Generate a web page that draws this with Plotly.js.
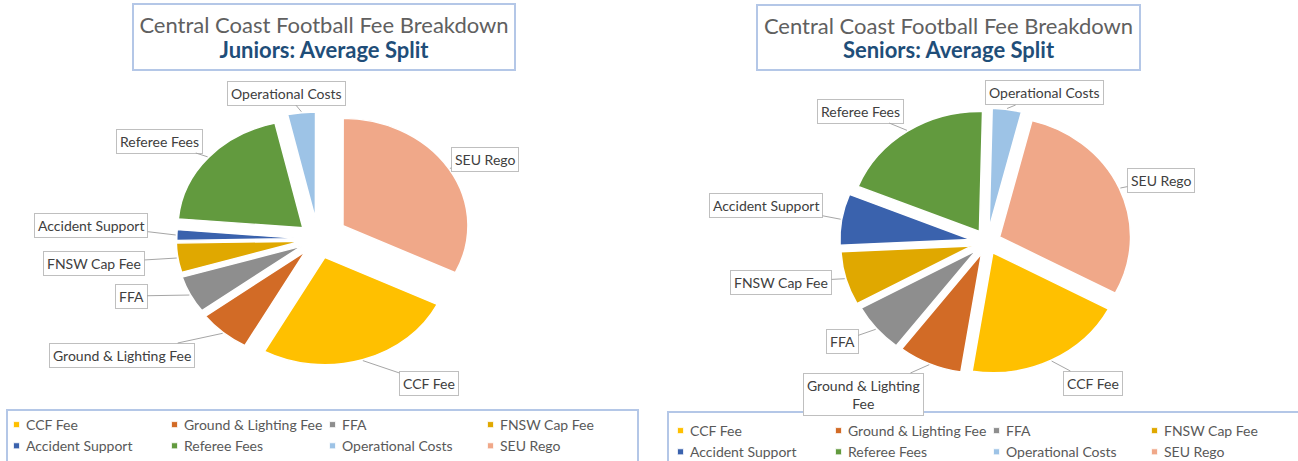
<!DOCTYPE html>
<html>
<head>
<meta charset="utf-8">
<script src="https://cdn.plot.ly/plotly-3.0.1.min.js"></script>
<style>
html,body{margin:0;padding:0;background:#ffffff;overflow:hidden;}
#page{position:relative;width:1298px;height:461px;overflow:hidden;}
.panel{position:absolute;top:0;height:461px;}
/* Excel-style small legend keys */
.panel .legendpie{transform:translate(30.5px,0px) scale(0.5);}
</style>
</head>
<body>
<div id="page">
  <div id="juniors" class="panel"></div>
  <div id="seniors" class="panel"></div>
</div>
<script>
// ---------------- data ----------------
const categories = ['CCF Fee', 'Ground & Lighting Fee', 'FFA', 'FNSW Cap Fee',
                    'Accident Support', 'Referee Fees', 'Operational Costs', 'SEU Rego'];
// average share of the fee (%)
const juniorsShare = [25.8, 6.7, 5.6, 4.4, 1.6, 20.1, 3.6, 32.2];
const seniorsShare = [19.75, 7.9, 6.6, 7.2, 6.9, 19.25, 3.6, 28.8];
const chartTitle = 'Central Coast Football Fee Breakdown';
const juniorsSubtitle = 'Juniors: Average Split';
const seniorsSubtitle = 'Seniors: Average Split';

// ---------------- style (page pixel positions) ----------------
const H = 461;
const FONT = 'Lato, Carlito, "Open Sans", sans-serif';
const sliceColors = ['#FFC000', '#D26B26', '#8E8E8E', '#E0A800',
                     '#3A62AD', '#629A3E', '#9DC3E6', '#F0A889'];
const boxBlue = '#B4C7E7';

const panels = [
  {
    id: 'juniors', left: -14, width: 663,
    values: juniorsShare, subtitle: juniorsSubtitle,
    cx: 318, cy: 239, r: 116, sx: 1.078, sy: 0.925, rotation: 116,
    pull: [0.18, 0.155, 0.145, 0.135, 0.13, 0.16, 0.185, 0.235],
    titleBox: {x0: 133, x1: 515, y0: 4, y1: 70},
    legendBox: {x0: 7, x1: 638, y0: 410, y1: 480},
    legendX: -14, legendY: 409,
    labelPos: [[429, 383], [122, 355], [131, 296], [94, 263], [91, 225], [159, 141], [286, 93], [485, 159]],
    wrap: []
  },
  {
    id: 'seniors', left: 649, width: 649,
    values: seniorsShare, subtitle: seniorsSubtitle,
    cx: 987, cy: 242, r: 125, sx: 1.048, sy: 0.96, rotation: 118,
    pull: [0.10, 0.105, 0.11, 0.12, 0.125, 0.105, 0.115, 0.105],
    titleBox: {x0: 757, x1: 1140, y0: 5, y1: 70},
    legendBox: {x0: 668, x1: 1320, y0: 412, y1: 480},
    legendX: 650, legendY: 415,
    labelPos: [[1093, 383], [863, 394], [842, 341], [781, 282], [766, 205], [860, 111], [1045, 93], [1161, 180]],
    wrap: [1]
  }
];

panels.forEach(function (p) {
  const div = document.getElementById(p.id);
  div.style.left = p.left + 'px';
  div.style.width = p.width + 'px';
  const px = function (X) { return (X - p.left) / p.width; };
  const py = function (Y) { return 1 - Y / H; };

  const annotations = [];
  const shapes = [];
  const maxPull = Math.max.apply(null, p.pull);
  const half = p.r * (1 + maxPull);

  const trace = {
    type: 'pie',
    labels: categories,
    values: p.values,
    sort: false,
    direction: 'clockwise',
    rotation: p.rotation,
    pull: p.pull,
    textinfo: 'none',
    hoverinfo: 'label+percent',
    marker: {colors: sliceColors, line: {color: '#ffffff', width: 1.5}},
    domain: {x: [px(p.cx - half), px(p.cx + half)], y: [py(p.cy + half), py(p.cy - half)]},
    showlegend: true
  };

  // callout labels, pointing at the middle of each slice
  const total = p.values.reduce(function (a, b) { return a + b; }, 0);
  let cum = 0;
  p.values.forEach(function (v, i) {
    const mid = (p.rotation + 360 * (cum + v / 2) / total) * Math.PI / 180;
    cum += v;
    const rr = p.r * (1 + p.pull[i]) + 1;
    const hx = p.cx + p.sx * rr * Math.sin(mid);
    const hy = p.cy - p.sy * rr * Math.cos(mid);
    let txt = categories[i];
    if (p.wrap.indexOf(i) >= 0) {
      const k = txt.lastIndexOf(' ');
      txt = txt.slice(0, k) + '<br>' + txt.slice(k + 1);
    }
    annotations.push({
      xref: 'paper', yref: 'paper', x: px(hx), y: py(hy),
      ax: p.labelPos[i][0] - hx, ay: p.labelPos[i][1] - hy,
      axref: 'pixel', ayref: 'pixel',
      text: txt, showarrow: true, arrowhead: 0, arrowwidth: 1, arrowcolor: '#A6A6A6', standoff: 0,
      font: {family: FONT, size: 14, color: '#404040'},
      bgcolor: '#ffffff', bordercolor: '#BFBFBF', borderwidth: 1, borderpad: 3
    });
  });

  // title box
  const tb = p.titleBox;
  annotations.push({
    xref: 'paper', yref: 'paper',
    x: px((tb.x0 + tb.x1) / 2), y: py((tb.y0 + tb.y1) / 2),
    xanchor: 'center', yanchor: 'middle', showarrow: false,
    width: tb.x1 - tb.x0 - 2, height: tb.y1 - tb.y0 - 2,
    text: '<span style="font-size:22px;color:#606060">' + chartTitle + '</span><br>' +
          '<b><span style="font-size:22px;color:#1F4E79">' + p.subtitle + '</span></b>',
    font: {family: FONT, size: 19, color: '#606060'},
    bgcolor: '#ffffff', bordercolor: boxBlue, borderwidth: 2, borderpad: 0
  });

  // legend frame
  const lb = p.legendBox;
  shapes.push({
    type: 'rect', xref: 'paper', yref: 'paper',
    x0: px(lb.x0), x1: px(lb.x1), y0: py(lb.y1), y1: py(lb.y0),
    line: {color: boxBlue, width: 2}, fillcolor: 'rgba(0,0,0,0)', layer: 'below'
  });

  const layout = {
    width: p.width, height: H, autosize: false,
    margin: {l: 0, r: 0, t: 0, b: 0, autoexpand: false},
    paper_bgcolor: 'rgba(0,0,0,0)', plot_bgcolor: 'rgba(0,0,0,0)',
    font: {family: FONT, color: '#404040'},
    annotations: annotations, shapes: shapes,
    legend: {
      x: px(p.legendX), y: py(p.legendY), xanchor: 'left', yanchor: 'top',
      orientation: 'h', entrywidth: 113, entrywidthmode: 'pixels',
      traceorder: 'normal', itemwidth: 30,
      font: {family: FONT, size: 14, color: '#595959'},
      bgcolor: 'rgba(0,0,0,0)', borderwidth: 0
    }
  };

  Plotly.newPlot(div, [trace], layout, {displayModeBar: false, staticPlot: true}).then(function () {
    // the reference pies are drawn slightly wider than tall
    const g = div.querySelector('.pielayer');
    if (g) {
      g.style.transformOrigin = (p.cx - p.left) + 'px ' + p.cy + 'px';
      g.style.transform = 'scale(' + p.sx + ',' + p.sy + ')';
    }
  });
});
</script>
</body>
</html>
